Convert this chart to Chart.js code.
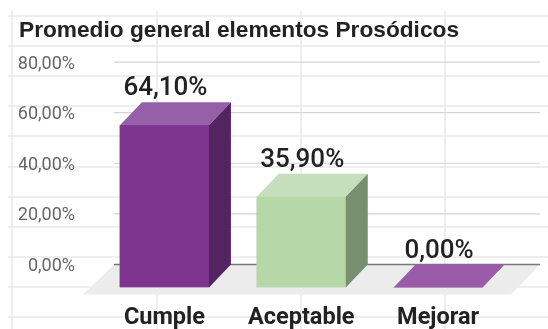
<!DOCTYPE html>
<html>
<head>
<meta charset="utf-8">
<title>Promedio general elementos Prosódicos</title>
<script src="https://cdn.jsdelivr.net/npm/chart.js@4"></script>
<style>
  html, body { margin: 0; padding: 0; background: #fff; }
  canvas { display: block; }
</style>
</head>
<body>
<canvas id="promedioChart" width="548" height="329"></canvas>
<script>
const categorias = ["Cumple", "Aceptable", "Mejorar"];
const valores = [64.1, 35.9, 0];
const marcasEje = [0, 20, 40, 60, 80];

const colorFrente = ["#7d3590", "#b6d7a8", "#9a5ca8"];
const colorArriba = ["#9660a8", "#c5debb", "#9a5ca8"];
const colorLado = ["#53245f", "#778f6e", "#6b3a78"];

// profundidad de la caja 3D
const fondoX = 22;
const fondoY = 23;

// las celdas de la hoja que se ven detras del grafico
const celdasX = [12, 157, 301, 445];
const celdasY = [16, 46, 76, 106, 136, 167, 197, 227, 257, 287, 317];

function formatoPorcentaje(v) {
  return v.toFixed(2).replace(".", ",") + "%";
}

function poligono(ctx, puntos, color) {
  ctx.fillStyle = color;
  ctx.beginPath();
  puntos.forEach((p, i) => (i ? ctx.lineTo(p[0], p[1]) : ctx.moveTo(p[0], p[1])));
  ctx.closePath();
  ctx.fill();
}

const fondoHoja = {
  id: "fondoHoja",
  beforeDraw(chart) {
    const ctx = chart.ctx;
    ctx.save();
    ctx.strokeStyle = "#e9e9e9";
    ctx.lineWidth = 1.5;
    celdasY.forEach((y) => {
      ctx.beginPath();
      ctx.moveTo(8, y);
      ctx.lineTo(548, y);
      ctx.stroke();
    });
    celdasX.forEach((x) => {
      ctx.beginPath();
      ctx.moveTo(x, 11);
      ctx.lineTo(x, 329);
      ctx.stroke();
    });
    ctx.restore();
  },
  beforeDatasetsDraw(chart) {
    const ctx = chart.ctx;
    const y = chart.scales.y;
    const cero = y.getPixelForValue(0);
    const izq = 114;
    const der = 540;

    ctx.save();
    poligono(ctx, [[izq, cero], [der, cero], [der - 29, cero + 30], [izq - 31, cero + 30]], "#ececec");

    marcasEje.forEach((m) => {
      ctx.strokeStyle = m === 0 ? "#777777" : "#d4d4d4";
      ctx.lineWidth = m === 0 ? 1.5 : 1.2;
      ctx.beginPath();
      ctx.moveTo(izq, y.getPixelForValue(m));
      ctx.lineTo(der, y.getPixelForValue(m));
      ctx.stroke();
    });
    ctx.restore();
  },
};

const caja3d = {
  id: "caja3d",
  // el frente de la barra se corre hacia adelante, la escala queda en el plano de atras
  beforeDatasetDraw(chart) {
    chart.ctx.save();
    chart.ctx.translate(-fondoX, fondoY);
  },
  afterDatasetDraw(chart) {
    chart.ctx.restore();
  },
  afterDatasetsDraw(chart) {
    const ctx = chart.ctx;
    const barras = chart.getDatasetMeta(0).data;

    barras.forEach((b, i) => {
      const m = b.width / 2;
      const izq = b.x - m;
      const der = b.x + m;

      poligono(ctx, [[izq - fondoX, b.y + fondoY], [der - fondoX, b.y + fondoY], [der, b.y], [izq, b.y]], colorArriba[i]);
      if (valores[i] > 0) {
        poligono(ctx, [[der - fondoX, b.y + fondoY], [der, b.y], [der, b.base], [der - fondoX, b.base + fondoY]], colorLado[i]);
      }

      ctx.save();
      ctx.fillStyle = "#222222";
      ctx.font = "500 26px Roboto";
      ctx.textAlign = "center";
      ctx.textBaseline = "alphabetic";
      ctx.fillText(formatoPorcentaje(valores[i]), b.x - fondoX + 1, b.y - 7);
      ctx.restore();
    });
  },
};

new Chart(document.getElementById("promedioChart"), {
  type: "bar",
  data: {
    labels: categorias,
    datasets: [
      {
        label: "Promedio",
        data: valores,
        backgroundColor: colorFrente,
        barThickness: 89,
      },
    ],
  },
  options: {
    responsive: false,
    animation: false,
    layout: {
      padding: { left: 19, right: 19.5 },
    },
    plugins: {
      legend: { display: false },
      tooltip: { enabled: false },
      title: {
        display: true,
        text: "Promedio general elementos Prosódicos",
        align: "start",
        color: "#222222",
        font: { family: "'Liberation Sans'", size: 22.7, weight: "bold" },
        padding: { top: 17, bottom: 17.8 },
      },
    },
    scales: {
      x: {
        grid: { display: false, drawTicks: false },
        border: { display: false },
        ticks: {
          color: "#222222",
          font: { family: "Roboto", size: 23.5, weight: "bold" },
          labelOffset: -fondoX,
          padding: 40,
          maxRotation: 0,
        },
        afterFit(scale) {
          scale.height = 64.5;
        },
      },
      y: {
        min: 0,
        max: 80,
        grid: { display: false, drawTicks: false },
        border: { display: false },
        afterBuildTicks(scale) {
          scale.ticks = marcasEje.map((v) => ({ value: v }));
        },
        ticks: {
          color: "#666666",
          font: { family: "Roboto", size: 18 },
          padding: 43,
          labelOffset: 2,
          callback: formatoPorcentaje,
        },
        afterFit(scale) {
          scale.width = 99;
        },
      },
    },
  },
  plugins: [fondoHoja, caja3d],
});
</script>
</body>
</html>
